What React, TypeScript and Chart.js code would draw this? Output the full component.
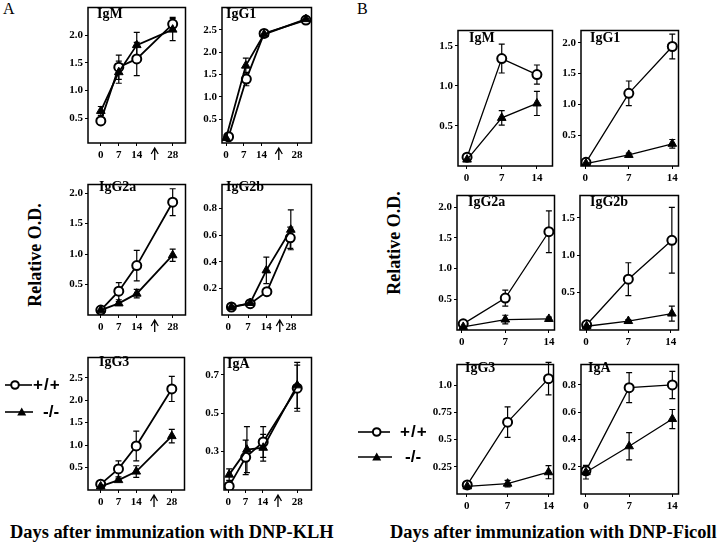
import React, { useEffect, useRef } from "react";
import { Chart, registerables } from "chart.js";

Chart.register(...registerables);

const SERIF = '"Liberation Serif", "DejaVu Serif", serif';
const SANS = '"Liberation Sans", "DejaVu Sans", sans-serif';

// ---------------- Panel A : DNP-KLH ----------------
const A_xTicks = [0, 7, 14, 28];
const A_xTickLabels = ["0", "7", "14", "28"];

const A_IgM_xWt = [0, 7, 14, 28];
const A_IgM_wt = [0.45, 1.42, 1.57, 2.2];
const A_IgM_wtErr = [0.03, 0.22, 0.3, 0.12];
const A_IgM_xKo = [0, 7, 14, 28];
const A_IgM_ko = [0.63, 1.33, 1.82, 2.1];
const A_IgM_koErr = [0.08, 0.2, 0.23, 0.2];
const A_IgM_yTicks = [0.5, 1.0, 1.5, 2.0];
const A_IgM_yLabels = ["0.5", "1.0", "1.5", "2.0"];

const A_IgG1_xWt = [1, 8, 15, 31.5];
const A_IgG1_wt = [0.11, 1.4, 2.42, 2.72];
const A_IgG1_wtErr = [0, 0.15, 0.05, 0.05];
const A_IgG1_xKo = [0, 7.8, 15, 31.5];
const A_IgG1_ko = [0.08, 1.7, 2.4, 2.74];
const A_IgG1_koErr = [0, 0.17, 0.07, 0.04];
const A_IgG1_yTicks = [0.5, 1.0, 1.5, 2.0, 2.5];
const A_IgG1_yLabels = ["0.5", "1.0", "1.5", "2.0", "2.5"];

const A_IgG2a_xWt = [0, 7, 14, 28];
const A_IgG2a_wt = [0.08, 0.39, 0.81, 1.85];
const A_IgG2a_wtErr = [0, 0.14, 0.25, 0.22];
const A_IgG2a_xKo = [0, 7, 14, 28];
const A_IgG2a_ko = [0.08, 0.19, 0.35, 0.98];
const A_IgG2a_koErr = [0, 0.03, 0.07, 0.1];
const A_IgG2a_yTicks = [0.5, 1.0, 1.5, 2.0];
const A_IgG2a_yLabels = ["0.5", "1.0", "1.5", "2.0"];

const A_IgG2b_xTicks = [0, 7.4, 14.2, 23.4];
const A_IgG2b_xWt = [1.2, 8.2, 14.4, 23.1];
const A_IgG2b_wt = [0.06, 0.085, 0.175, 0.58];
const A_IgG2b_wtErr = [0, 0, 0, 0.08];
const A_IgG2b_xKo = [1.2, 8.2, 14.2, 23.3];
const A_IgG2b_ko = [0.06, 0.09, 0.335, 0.64];
const A_IgG2b_koErr = [0.01, 0.01, 0.1, 0.15];
const A_IgG2b_yTicks = [0.2, 0.4, 0.6, 0.8];
const A_IgG2b_yLabels = ["0.2", "0.4", "0.6", "0.8"];

const A_IgG3_xWt = [0, 7, 14, 28];
const A_IgG3_wt = [0.13, 0.47, 0.98, 2.25];
const A_IgG3_wtErr = [0.03, 0.18, 0.33, 0.28];
const A_IgG3_xKo = [0, 7, 14, 28];
const A_IgG3_ko = [0.08, 0.22, 0.41, 1.2];
const A_IgG3_koErr = [0, 0.03, 0.13, 0.15];
const A_IgG3_yTicks = [0.5, 1.0, 1.5, 2.0, 2.5];
const A_IgG3_yLabels = ["0.5", "1.0", "1.5", "2.0", "2.5"];

const A_IgA_xWt = [0.4, 7.1, 14.2, 28];
const A_IgA_wt = [0.12, 0.27, 0.35, 0.63];
const A_IgA_wtErr = [0, 0.09, 0.08, 0.12];
const A_IgA_xKo = [0.4, 7.6, 14.2, 28];
const A_IgA_ko = [0.18, 0.31, 0.32, 0.645];
const A_IgA_koErr = [0.03, 0.12, 0.07, 0.12];
const A_IgA_yTicks = [0.3, 0.5, 0.7];
const A_IgA_yLabels = ["0.3", "0.5", "0.7"];

// ---------------- Panel B : DNP-Ficoll ----------------
const B_xTicks = [0, 7, 14];
const B_xTickLabels = ["0", "7", "14"];

const B_IgM_xWt = [0.1, 7, 14];
const B_IgM_wt = [0.11, 1.34, 1.14];
const B_IgM_wtErr = [0, 0.18, 0.12];
const B_IgM_xKo = [0.1, 7, 14];
const B_IgM_ko = [0.08, 0.6, 0.78];
const B_IgM_koErr = [0, 0.09, 0.15];
const B_IgM_yTicks = [0.5, 1.0, 1.5];
const B_IgM_yLabels = ["0.5", "1.0", "1.5"];

const B_IgG1_xWt = [0.1, 7, 14];
const B_IgG1_wt = [0.06, 1.18, 1.94];
const B_IgG1_wtErr = [0, 0.2, 0.2];
const B_IgG1_xKo = [0.1, 7, 14];
const B_IgG1_ko = [0.04, 0.18, 0.36];
const B_IgG1_koErr = [0, 0.03, 0.07];
const B_IgG1_yTicks = [0.5, 1.0, 1.5, 2.0];
const B_IgG1_yLabels = ["0.5", "1.0", "1.5", "2.0"];

const B_IgG2a_xWt = [0.25, 7, 14];
const B_IgG2a_wt = [0.1, 0.52, 1.6];
const B_IgG2a_wtErr = [0, 0.13, 0.34];
const B_IgG2a_xKo = [0.25, 7, 14];
const B_IgG2a_ko = [0.05, 0.17, 0.18];
const B_IgG2a_koErr = [0, 0.07, 0.03];
const B_IgG2a_yTicks = [0.5, 1.0, 1.5, 2.0];
const B_IgG2a_yLabels = ["0.5", "1.0", "1.5", "2.0"];

const B_IgG2b_xWt = [0.1, 7, 14.2];
const B_IgG2b_wt = [0.07, 0.68, 1.2];
const B_IgG2b_wtErr = [0, 0.22, 0.44];
const B_IgG2b_xKo = [0.1, 7, 14.2];
const B_IgG2b_ko = [0.05, 0.12, 0.22];
const B_IgG2b_koErr = [0, 0.02, 0.1];
const B_IgG2b_yTicks = [0.5, 1.0, 1.5];
const B_IgG2b_yLabels = ["0.5", "1.0", "1.5"];

const B_IgG3_xWt = [0.1, 7, 14];
const B_IgG3_wt = [0.083, 0.66, 1.06];
const B_IgG3_wtErr = [0, 0.14, 0.15];
const B_IgG3_xKo = [0.1, 7, 14];
const B_IgG3_ko = [0.07, 0.095, 0.2];
const B_IgG3_koErr = [0, 0.03, 0.06];
const B_IgG3_yTicks = [0.25, 0.5, 0.75, 1.0];
const B_IgG3_yLabels = ["0.25", "0.5", "0.75", "1.0"];

const B_IgA_xWt = [0, 7, 14];
const B_IgA_wt = [0.17, 0.78, 0.8];
const B_IgA_wtErr = [0, 0.11, 0.1];
const B_IgA_xKo = [0, 7, 14];
const B_IgA_ko = [0.16, 0.35, 0.55];
const B_IgA_koErr = [0.05, 0.1, 0.07];
const B_IgA_yTicks = [0.2, 0.4, 0.6, 0.8];
const B_IgA_yLabels = ["0.2", "0.4", "0.6", "0.8"];

// ---------------- layout ----------------
const YW = 34; // y-axis band width
const XH = 24; // x-axis band height
const PT = 4; // top padding
const PR = 6; // right padding

type Box = { l: number; t: number; r: number; b: number };
type Panel = {
  title: string;
  titleDx: number;
  titleBase: number;
  box: Box;
  xMin: number;
  xMax: number;
  xTicks: number[];
  xLabels: string[];
  arrow?: number;
  yMin: number;
  yMax: number;
  yTicks: number[];
  yLabels: string[];
  xWt: number[];
  wt: number[];
  wtErr: number[];
  xKo: number[];
  ko: number[];
  koErr: number[];
  lw: number;
};

const panels: Panel[] = [
  {
    title: "IgM", titleDx: 9, titleBase: 14, box: { l: 88, t: 5, r: 186, b: 143 },
    xMin: -5, xMax: 33, xTicks: A_xTicks, xLabels: A_xTickLabels, arrow: 21,
    yMin: 0.05, yMax: 2.5, yTicks: A_IgM_yTicks, yLabels: A_IgM_yLabels,
    xWt: A_IgM_xWt, wt: A_IgM_wt, wtErr: A_IgM_wtErr, xKo: A_IgM_xKo, ko: A_IgM_ko, koErr: A_IgM_koErr, lw: 1.8,
  },
  {
    title: "IgG1", titleDx: 4, titleBase: 14, box: { l: 222, t: 5, r: 312, b: 143 },
    xMin: -1.6, xMax: 33.7, xTicks: A_xTicks, xLabels: A_xTickLabels, arrow: 20.8,
    yMin: -0.03, yMax: 3.0, yTicks: A_IgG1_yTicks, yLabels: A_IgG1_yLabels,
    xWt: A_IgG1_xWt, wt: A_IgG1_wt, wtErr: A_IgG1_wtErr, xKo: A_IgG1_xKo, ko: A_IgG1_ko, koErr: A_IgG1_koErr, lw: 1.8,
  },
  {
    title: "IgG2a", titleDx: 11, titleBase: 10, box: { l: 88, t: 182, r: 186, b: 315 },
    xMin: -5, xMax: 33, xTicks: A_xTicks, xLabels: A_xTickLabels, arrow: 21,
    yMin: 0, yMax: 2.14, yTicks: A_IgG2a_yTicks, yLabels: A_IgG2a_yLabels,
    xWt: A_IgG2a_xWt, wt: A_IgG2a_wt, wtErr: A_IgG2a_wtErr, xKo: A_IgG2a_xKo, ko: A_IgG2a_ko, koErr: A_IgG2a_koErr, lw: 1.8,
  },
  {
    title: "IgG2b", titleDx: 4, titleBase: 10, box: { l: 222, t: 182, r: 312, b: 315 },
    xMin: -2.3, xMax: 31, xTicks: A_IgG2b_xTicks, xLabels: A_xTickLabels, arrow: 19.2,
    yMin: 0, yMax: 0.98, yTicks: A_IgG2b_yTicks, yLabels: A_IgG2b_yLabels,
    xWt: A_IgG2b_xWt, wt: A_IgG2b_wt, wtErr: A_IgG2b_wtErr, xKo: A_IgG2b_xKo, ko: A_IgG2b_ko, koErr: A_IgG2b_koErr, lw: 1.8,
  },
  {
    title: "IgG3", titleDx: 11, titleBase: 12, box: { l: 88, t: 355, r: 185, b: 490 },
    xMin: -5, xMax: 33, xTicks: A_xTicks, xLabels: A_xTickLabels, arrow: 21,
    yMin: 0, yMax: 2.95, yTicks: A_IgG3_yTicks, yLabels: A_IgG3_yLabels,
    xWt: A_IgG3_xWt, wt: A_IgG3_wt, wtErr: A_IgG3_wtErr, xKo: A_IgG3_xKo, ko: A_IgG3_ko, koErr: A_IgG3_koErr, lw: 1.8,
  },
  {
    title: "IgA", titleDx: 3, titleBase: 14, box: { l: 224, t: 355, r: 312, b: 490 },
    xMin: -1.7, xMax: 33.8, xTicks: A_xTicks, xLabels: A_xTickLabels, arrow: 20.2,
    yMin: 0.1, yMax: 0.79, yTicks: A_IgA_yTicks, yLabels: A_IgA_yLabels,
    xWt: A_IgA_xWt, wt: A_IgA_wt, wtErr: A_IgA_wtErr, xKo: A_IgA_xKo, ko: A_IgA_ko, koErr: A_IgA_koErr, lw: 1.8,
  },
  {
    title: "IgM", titleDx: 11, titleBase: 15, box: { l: 458, t: 28, r: 553, b: 166 },
    xMin: -1.7, xMax: 17.1, xTicks: B_xTicks, xLabels: B_xTickLabels,
    yMin: 0, yMax: 1.69, yTicks: B_IgM_yTicks, yLabels: B_IgM_yLabels,
    xWt: B_IgM_xWt, wt: B_IgM_wt, wtErr: B_IgM_wtErr, xKo: B_IgM_xKo, ko: B_IgM_ko, koErr: B_IgM_koErr, lw: 1.3,
  },
  {
    title: "IgG1", titleDx: 9, titleBase: 15, box: { l: 581, t: 28, r: 679, b: 166 },
    xMin: -0.7, xMax: 15, xTicks: B_xTicks, xLabels: B_xTickLabels,
    yMin: 0, yMax: 2.2, yTicks: B_IgG1_yTicks, yLabels: B_IgG1_yLabels,
    xWt: B_IgG1_xWt, wt: B_IgG1_wt, wtErr: B_IgG1_wtErr, xKo: B_IgG1_xKo, ko: B_IgG1_ko, koErr: B_IgG1_koErr, lw: 1.3,
  },
  {
    title: "IgG2a", titleDx: 11, titleBase: 14, box: { l: 457, t: 193, r: 555, b: 330 },
    xMin: -0.75, xMax: 14.9, xTicks: B_xTicks, xLabels: B_xTickLabels,
    yMin: 0, yMax: 2.19, yTicks: B_IgG2a_yTicks, yLabels: B_IgG2a_yLabels,
    xWt: B_IgG2a_xWt, wt: B_IgG2a_wt, wtErr: B_IgG2a_wtErr, xKo: B_IgG2a_xKo, ko: B_IgG2a_ko, koErr: B_IgG2a_koErr, lw: 1.3,
  },
  {
    title: "IgG2b", titleDx: 10, titleBase: 14, box: { l: 580, t: 193, r: 679, b: 330 },
    xMin: -1, xMax: 15.3, xTicks: B_xTicks, xLabels: B_xTickLabels,
    yMin: 0, yMax: 1.8, yTicks: B_IgG2b_yTicks, yLabels: B_IgG2b_yLabels,
    xWt: B_IgG2b_xWt, wt: B_IgG2b_wt, wtErr: B_IgG2b_wtErr, xKo: B_IgG2b_xKo, ko: B_IgG2b_ko, koErr: B_IgG2b_koErr, lw: 1.3,
  },
  {
    title: "IgG3", titleDx: 8, titleBase: 11, box: { l: 457, t: 362, r: 554, b: 494 },
    xMin: -1.65, xMax: 14.85, xTicks: B_xTicks, xLabels: B_xTickLabels,
    yMin: 0, yMax: 1.19, yTicks: B_IgG3_yTicks, yLabels: B_IgG3_yLabels,
    xWt: B_IgG3_xWt, wt: B_IgG3_wt, wtErr: B_IgG3_wtErr, xKo: B_IgG3_xKo, ko: B_IgG3_ko, koErr: B_IgG3_koErr, lw: 1.3,
  },
  {
    title: "IgA", titleDx: 7, titleBase: 11, box: { l: 581, t: 362, r: 679, b: 494 },
    xMin: -0.8, xMax: 15, xTicks: B_xTicks, xLabels: B_xTickLabels,
    yMin: 0, yMax: 0.95, yTicks: B_IgA_yTicks, yLabels: B_IgA_yLabels,
    xWt: B_IgA_xWt, wt: B_IgA_wt, wtErr: B_IgA_wtErr, xKo: B_IgA_xKo, ko: B_IgA_ko, koErr: B_IgA_koErr, lw: 1.3,
  },
];

// ---------------- plugins ----------------
const errorBarPlugin = {
  id: "errorBars",
  beforeDatasetsDraw(chart: any) {
    const ctx = chart.ctx;
    const ys = chart.scales.y;
    chart.data.datasets.forEach((ds: any, di: number) => {
      const errs: number[] | undefined = ds.errors;
      if (!errs) return;
      const meta = chart.getDatasetMeta(di);
      meta.data.forEach((pt: any, i: number) => {
        const e = errs[i];
        if (!e) return;
        const v = ds.data[i].y;
        const x = pt.x;
        const y1 = ys.getPixelForValue(v + e);
        const y2 = ys.getPixelForValue(v - e);
        ctx.save();
        ctx.strokeStyle = "#000";
        ctx.lineWidth = 1.2;
        ctx.beginPath();
        ctx.moveTo(x, y1);
        ctx.lineTo(x, y2);
        ctx.moveTo(x - 3, y1);
        ctx.lineTo(x + 3, y1);
        ctx.moveTo(x - 3, y2);
        ctx.lineTo(x + 3, y2);
        ctx.stroke();
        ctx.restore();
      });
    });
  },
};

const frameAndArrowPlugin = {
  id: "frameArrow",
  afterDraw(chart: any, _args: any, opts: any) {
    const ctx = chart.ctx;
    const a = chart.chartArea;
    ctx.save();
    ctx.strokeStyle = "#000";
    ctx.lineWidth = 1.5;
    ctx.strokeRect(a.left, a.top, a.right - a.left, a.bottom - a.top);
    if (opts && typeof opts.at === "number") {
      const x = chart.scales.x.getPixelForValue(opts.at);
      const y0 = a.bottom + 5;
      const y1 = a.bottom + 17;
      ctx.lineWidth = 1.3;
      ctx.beginPath();
      ctx.moveTo(x, y1);
      ctx.lineTo(x, y0);
      ctx.moveTo(x - 3.5, y0 + 6);
      ctx.lineTo(x, y0);
      ctx.lineTo(x + 3.5, y0 + 6);
      ctx.stroke();
    }
    ctx.restore();
  },
};

function PanelChart({ p }: { p: Panel }) {
  const ref = useRef<HTMLCanvasElement>(null);
  const w = p.box.r - p.box.l + YW + PR;
  const h = p.box.b - p.box.t + PT + XH;

  useEffect(() => {
    if (!ref.current) return;
    const tickFont = { family: SERIF, size: 11, weight: "bold" as const };
    const chart = new Chart(ref.current, {
      type: "line",
      data: {
        datasets: [
          {
            label: "-/-",
            data: p.xKo.map((x, i) => ({ x, y: p.ko[i] })),
            errors: p.koErr,
            borderColor: "#000",
            borderWidth: p.lw,
            pointStyle: "triangle",
            pointRadius: 5,
            pointBackgroundColor: "#000",
            pointBorderColor: "#000",
            pointBorderWidth: 1,
            tension: 0,
          } as any,
          {
            label: "+/+",
            data: p.xWt.map((x, i) => ({ x, y: p.wt[i] })),
            errors: p.wtErr,
            borderColor: "#000",
            borderWidth: p.lw,
            pointStyle: "circle",
            pointRadius: 4.5,
            pointBackgroundColor: "#fff",
            pointBorderColor: "#000",
            pointBorderWidth: 2,
            tension: 0,
          } as any,
        ],
      },
      options: {
        animation: false,
        responsive: false,
        maintainAspectRatio: false,
        devicePixelRatio: 1,
        events: [],
        layout: { padding: { top: PT, right: PR, left: 0, bottom: 0 } },
        plugins: {
          legend: { display: false },
          tooltip: { enabled: false },
          frameArrow: { at: p.arrow },
        } as any,
        scales: {
          x: {
            type: "linear",
            min: p.xMin,
            max: p.xMax,
            afterBuildTicks: (s: any) => {
              s.ticks = p.xTicks.map((v) => ({ value: v }));
            },
            afterFit: (s: any) => {
              s.height = XH;
              s.paddingLeft = 0;
              s.paddingRight = 0;
            },
            ticks: {
              autoSkip: false,
              maxRotation: 0,
              padding: 3,
              color: "#000",
              font: tickFont,
              callback: (_v: any, i: number) => p.xLabels[i],
            },
            grid: { display: true, drawOnChartArea: false, drawTicks: true, tickLength: 3, color: "#000", lineWidth: 1 },
            border: { display: false },
          },
          y: {
            type: "linear",
            min: p.yMin,
            max: p.yMax,
            afterBuildTicks: (s: any) => {
              s.ticks = p.yTicks.map((v) => ({ value: v }));
            },
            afterFit: (s: any) => {
              s.width = YW;
              s.paddingTop = 0;
              s.paddingBottom = 0;
            },
            ticks: {
              autoSkip: false,
              padding: 2,
              color: "#000",
              font: tickFont,
              callback: (_v: any, i: number) => p.yLabels[i],
            },
            grid: { display: true, drawOnChartArea: false, drawTicks: true, tickLength: 3, color: "#000", lineWidth: 1 },
            border: { display: false },
          },
        },
      } as any,
      plugins: [errorBarPlugin, frameAndArrowPlugin],
    });
    return () => chart.destroy();
  }, []);

  const titleSize = 14;
  return (
    <>
      <canvas
        ref={ref}
        width={w}
        height={h}
        style={{ position: "absolute", left: p.box.l - YW, top: p.box.t - PT, width: w, height: h }}
      />
      <div
        style={{
          position: "absolute",
          left: p.box.l + p.titleDx,
          top: p.box.t + p.titleBase - titleSize * 0.8375,
          font: `bold ${titleSize}px ${SERIF}`,
          lineHeight: 1,
          whiteSpace: "nowrap",
          color: "#000",
        }}
      >
        {p.title}
      </div>
    </>
  );
}

function Text({ x, base, size, text, bold = true, family = SERIF, spacing = 0 }: any) {
  return (
    <div
      style={{
        position: "absolute",
        left: x,
        top: base - size * 0.8375,
        font: `${bold ? "bold " : ""}${size}px ${family}`,
        lineHeight: 1,
        whiteSpace: "nowrap",
        letterSpacing: spacing,
        color: "#000",
      }}
    >
      {text}
    </div>
  );
}

function VText({ cx, cy, size, text }: any) {
  return (
    <div
      style={{
        position: "absolute",
        left: cx,
        top: cy,
        transform: "translate(-50%, -50%) rotate(-90deg)",
        font: `bold ${size}px ${SERIF}`,
        lineHeight: 1,
        whiteSpace: "nowrap",
        color: "#000",
      }}
    >
      {text}
    </div>
  );
}

function LegendMark({ x1, x2, y, mx, kind }: any) {
  return (
    <svg
      style={{ position: "absolute", left: 0, top: 0, overflow: "visible" }}
      width={1}
      height={1}
    >
      <line x1={x1} x2={x2} y1={y} y2={y} stroke="#000" strokeWidth={1.6} />
      {kind === "circle" ? (
        <circle cx={mx} cy={y} r={3.8} fill="#fff" stroke="#000" strokeWidth={2} />
      ) : (
        <polygon points={`${mx - 4.5},${y + 3.5} ${mx + 4.5},${y + 3.5} ${mx},${y - 4.5}`} fill="#000" />
      )}
    </svg>
  );
}

export default function App() {
  return (
    <div style={{ position: "absolute", left: 0, top: 0, width: 723, height: 547, background: "#fff", overflow: "hidden" }}>
      <Text x={3} base={14} size={16} text="A" bold={false} />
      <Text x={357} base={14} size={16} text="B" bold={false} />

      {panels.map((p, i) => (
        <PanelChart key={i} p={p} />
      ))}

      <VText cx={35} cy={255} size={18} text="Relative O.D." />
      <VText cx={394} cy={243} size={18} text="Relative O.D." />

      <LegendMark x1={5} x2={32} y={385} mx={15} kind="circle" />
      <Text x={33} base={390} size={17} text="+/+" family={SANS} spacing={1} />
      <LegendMark x1={5} x2={33} y={412} mx={21.7} kind="triangle" />
      <Text x={43} base={417} size={17} text="-/-" family={SANS} />

      <LegendMark x1={358} x2={390} y={432} mx={376.7} kind="circle" />
      <Text x={400} base={437} size={17} text="+/+" family={SANS} spacing={1} />
      <LegendMark x1={358} x2={392} y={457} mx={376.7} kind="triangle" />
      <Text x={405} base={462} size={17} text="-/-" family={SANS} />

      <Text x={10} base={538} size={18.4} text="Days after immunization with DNP-KLH" />
      <Text x={390} base={538} size={18.4} text="Days after immunization with DNP-Ficoll" />
    </div>
  );
}
